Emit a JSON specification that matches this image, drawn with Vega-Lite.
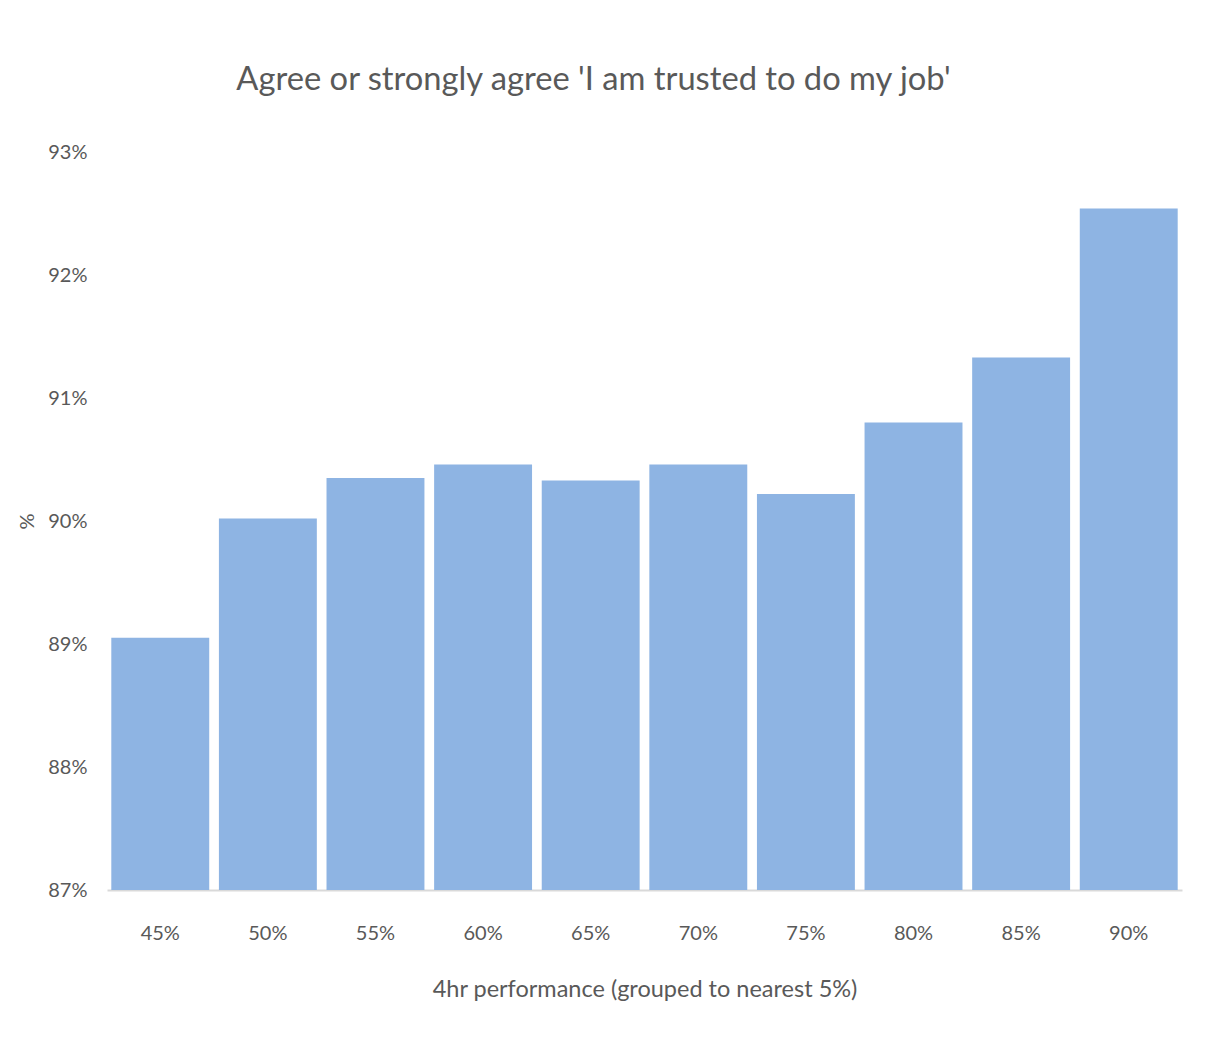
{
  "$schema": "https://vega.github.io/schema/vega-lite/v6.json",
  "width": 1075,
  "height": 738,
  "autosize": {"type": "none"},
  "padding": {"left": 107, "top": 152, "right": 38, "bottom": 151},
  "background": "white",
  "title": {
    "text": "Agree or strongly agree 'I am trusted to do my job'",
    "font": "Lato",
    "fontSize": 32.7,
    "fontWeight": "normal",
    "color": "#595959",
    "anchor": "middle",
    "baseline": "alphabetic",
    "offset": 19,
    "dx": -51
  },
  "data": {
    "values": [
      {"group": "45%", "pct": 89.05},
      {"group": "50%", "pct": 90.02},
      {"group": "55%", "pct": 90.35},
      {"group": "60%", "pct": 90.46},
      {"group": "65%", "pct": 90.33},
      {"group": "70%", "pct": 90.46},
      {"group": "75%", "pct": 90.22},
      {"group": "80%", "pct": 90.8},
      {"group": "85%", "pct": 91.33},
      {"group": "90%", "pct": 92.54}
    ]
  },
  "mark": {"type": "bar", "color": "#8eb4e3"},
  "encoding": {
    "x": {
      "field": "group",
      "type": "ordinal",
      "sort": null,
      "scale": {"paddingInner": 0.09, "paddingOuter": 0.04},
      "axis": {
        "title": "4hr performance (grouped to nearest 5%)",
        "labelAngle": 0,
        "ticks": false,
        "domainColor": "#d9d9d9",
        "domainWidth": 2,
        "labelPadding": 33,
        "labelFontSize": 20,
        "titleFontSize": 23.5,
        "titlePadding": 34
      }
    },
    "y": {
      "field": "pct",
      "type": "quantitative",
      "scale": {"domain": [87, 93], "zero": false, "nice": false},
      "axis": {
        "title": "%",
        "values": [87, 88, 89, 90, 91, 92, 93],
        "labelExpr": "datum.value + '%'",
        "domain": false,
        "ticks": false,
        "grid": false,
        "labelPadding": 20,
        "labelFontSize": 20,
        "titleFontSize": 20,
        "titleX": -80,
        "titleY": 369,
        "titleBaseline": "middle",
        "titleAlign": "center"
      }
    },
    "y2": {"datum": 87}
  },
  "config": {
    "view": {"stroke": null},
    "axis": {
      "labelFont": "Lato",
      "titleFont": "Lato",
      "labelColor": "#595959",
      "titleColor": "#595959",
      "titleFontWeight": "normal"
    }
  }
}
